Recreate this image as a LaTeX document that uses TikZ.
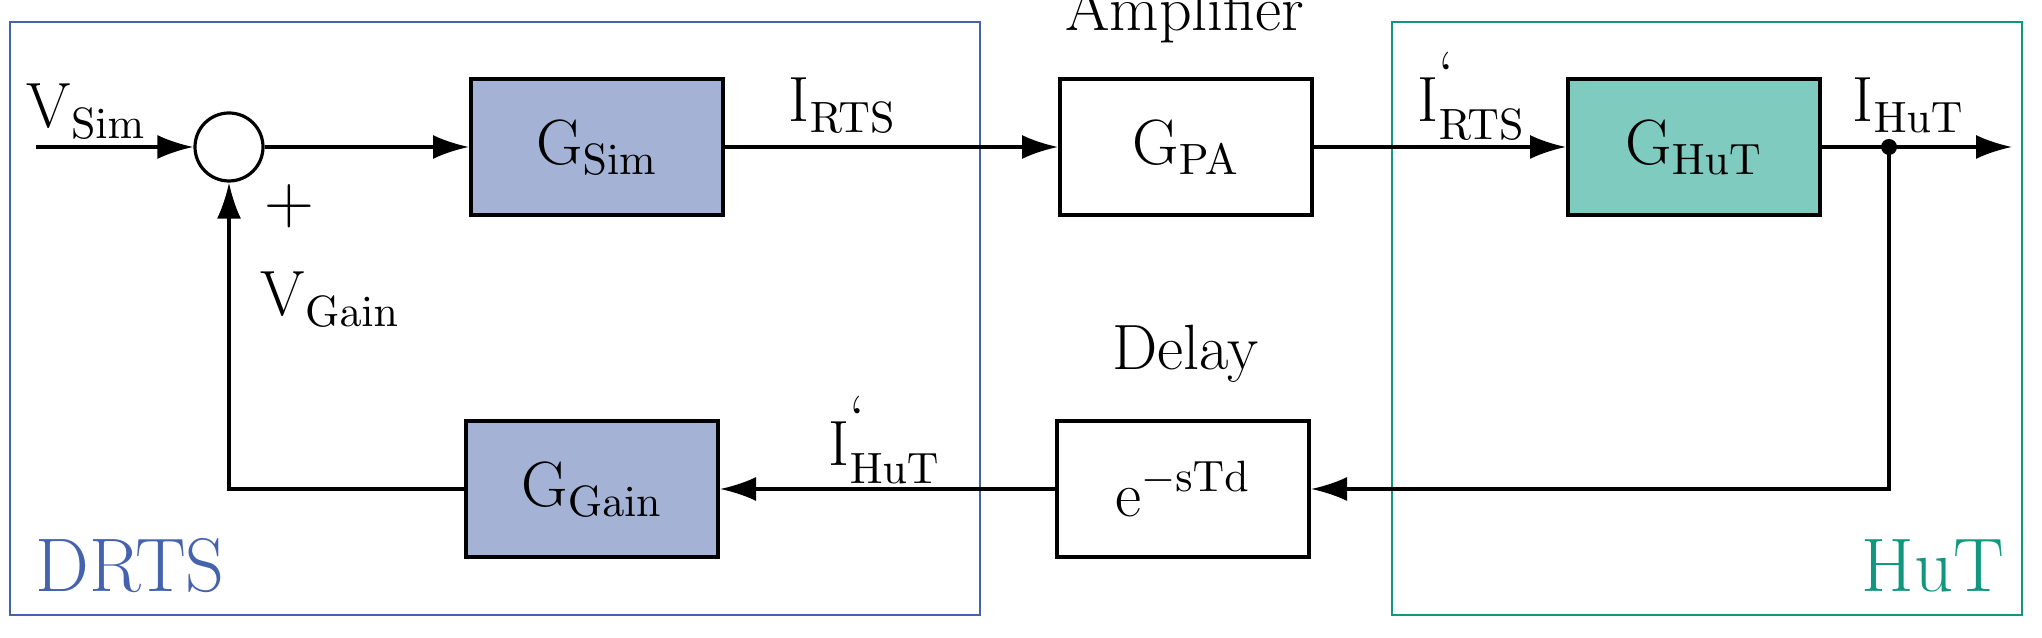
\documentclass[tikz,border=0pt]{standalone}
\usetikzlibrary{arrows.meta}
\definecolor{drts}{HTML}{4563AD}
\definecolor{drtsfill}{HTML}{A3B2D5}
\definecolor{hut}{HTML}{12977F}
\definecolor{hutfill}{HTML}{80CBBF}
\begin{document}
\begin{tikzpicture}[x=0.25pt,y=-0.25pt,
  blk/.style={draw,line width=1pt,minimum width=63pt,minimum height=34pt,inner sep=0pt,font=\fontsize{16}{19}\selectfont},
  lbl/.style={font=\fontsize{16}{19}\selectfont,inner sep=0pt},
  sl/.style={lbl,anchor=base west},
  big/.style={font=\fontsize{19}{22}\selectfont,inner sep=0pt},
  con/.style={line width=0.8pt,-{Latex[length=9pt,width=6pt]}}]
\useasboundingbox (0,0) rectangle (2042,638);
\draw[drts,line width=0.7pt] (10,22) rectangle (980,615);
\draw[hut,line width=0.7pt] (1392,22) rectangle (2022,615);
\node[big,text=drts] (tdrts) at (130,566) {DRTS};
\node[big,text=hut] (thut) at (1933,566) {HuT};
\coordinate (in) at (36,147);
\node[draw,circle,line width=0.8pt,minimum size=17pt,inner sep=0pt] (sum) at (229,147) {};
\node[blk,fill=drtsfill] (gsim) at (597,147) {G$_{\mathrm{Sim}}$};
\node[blk] (gpa) at (1186,147) {G$_{\mathrm{PA}}$};
\node[blk,fill=hutfill] (ghut) at (1694,147) {G$_{\mathrm{HuT}}$};
\node[blk] (delay) at (1183,489) {e$^{-\mathrm{sTd}}$};
\node[blk,fill=drtsfill] (ggain) at (592,489) {G$_{\mathrm{Gain}}$};
\coordinate (j) at (1889,147);
\coordinate (out) at (2012,147);
\draw[con] (in) -- (sum);
\draw[con] (sum) -- (gsim);
\draw[con] (gsim) -- (gpa);
\draw[con] (gpa) -- (ghut);
\draw[con] (ghut) -- (out);
\fill (j) circle (2pt);
\draw[con] (j) |- (delay);
\draw[con] (delay) -- (ggain);
\draw[con] (ggain) -| (sum);
\node[sl] (vsim) at (26,128) {V$_{\mathrm{Sim}}$};
\node[lbl] (plus) at (289,206) {$+$};
\node[sl] (vgain) at (260,316) {V$_{\mathrm{Gain}}$};
\node[sl] (irts) at (788,122) {I$_{\mathrm{RTS}}$};
\node[sl] (irts2) at (1417,122) {I$^{\mbox{`}}_{\mathrm{RTS}}$};
\node[sl] (ihut) at (1852,122) {I$_{\mathrm{HuT}}$};
\node[sl] (ihut2) at (828,466) {I$^{\mbox{`}}_{\mathrm{HuT}}$};
\node[lbl] (amp) at (1185,14) {Amplifier};
\node[lbl] (tdelay) at (1185,354) {Delay};
\end{tikzpicture}
\end{document}
